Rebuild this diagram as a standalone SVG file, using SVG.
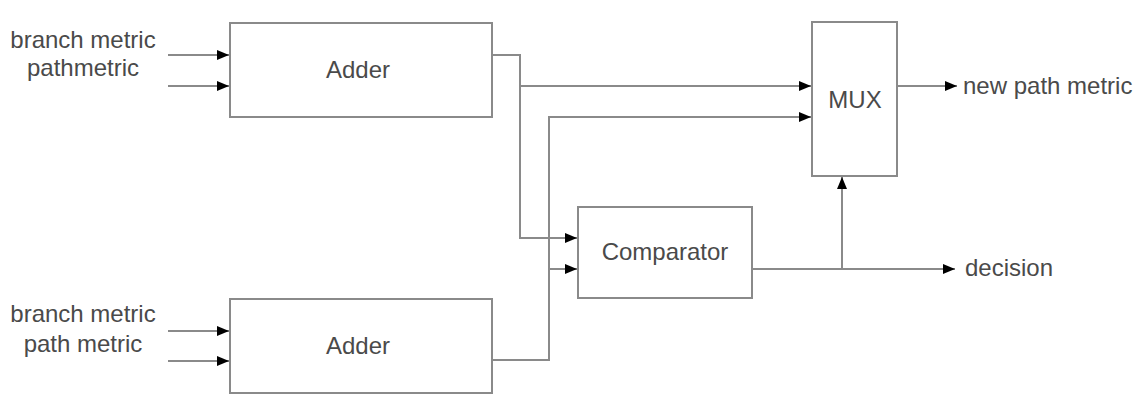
<svg xmlns="http://www.w3.org/2000/svg" width="1147" height="413" viewBox="0 0 1147 413">
<style>
.box{fill:#fff;stroke:#8a8a8a;stroke-width:2}
.t{font-family:"Liberation Sans",Arial,sans-serif;font-size:24px;fill:#4a4a4a}
.c{text-anchor:middle}
.w{fill:none;stroke:#8a8a8a;stroke-width:2}
</style>
<defs>
<marker id="ah" markerWidth="12" markerHeight="10" refX="12" refY="5" orient="auto" markerUnits="userSpaceOnUse">
<path d="M0,0 L12,5 L0,10 Z" fill="#000"/>
</marker>
</defs>
<rect width="1147" height="413" fill="#fff"/>
<g id="adder1"><rect class="box" x="230" y="23" width="262" height="94"/><text class="t c" x="358" y="78">Adder</text></g>
<g id="adder2"><rect class="box" x="230" y="299" width="262" height="94"/><text class="t c" x="358" y="354">Adder</text></g>
<g id="comparator"><rect class="box" x="578" y="207" width="174" height="91"/><text class="t c" x="665" y="260">Comparator</text></g>
<g id="mux"><rect class="box" x="812" y="22" width="85" height="154"/><text class="t c" x="855" y="108">MUX</text></g>
<g id="labels">
<text class="t c" x="83" y="48">branch metric</text>
<text class="t c" x="83" y="76">pathmetric</text>
<text class="t c" x="83" y="322">branch metric</text>
<text class="t c" x="83" y="352">path metric</text>
<text class="t" x="963" y="94">new path metric</text>
<text class="t" x="965" y="276">decision</text>
</g>
<g id="connectors">
<line class="w" x1="168" y1="55" x2="229" y2="55" marker-end="url(#ah)"/>
<line class="w" x1="168" y1="86" x2="229" y2="86" marker-end="url(#ah)"/>
<line class="w" x1="168" y1="331" x2="229" y2="331" marker-end="url(#ah)"/>
<line class="w" x1="168" y1="361" x2="229" y2="361" marker-end="url(#ah)"/>
<polyline class="w" points="492,55 520,55 520,238 577,238" marker-end="url(#ah)"/>
<line class="w" x1="520" y1="86" x2="811" y2="86" marker-end="url(#ah)"/>
<polyline class="w" points="492,360 549,360 549,117 811,117" marker-end="url(#ah)"/>
<line class="w" x1="549" y1="269" x2="577" y2="269" marker-end="url(#ah)"/>
<line class="w" x1="752" y1="269" x2="955" y2="269" marker-end="url(#ah)"/>
<line class="w" x1="842" y1="269" x2="842" y2="177" marker-end="url(#ah)"/>
<line class="w" x1="897" y1="86" x2="957" y2="86" marker-end="url(#ah)"/>
</g>
</svg>
